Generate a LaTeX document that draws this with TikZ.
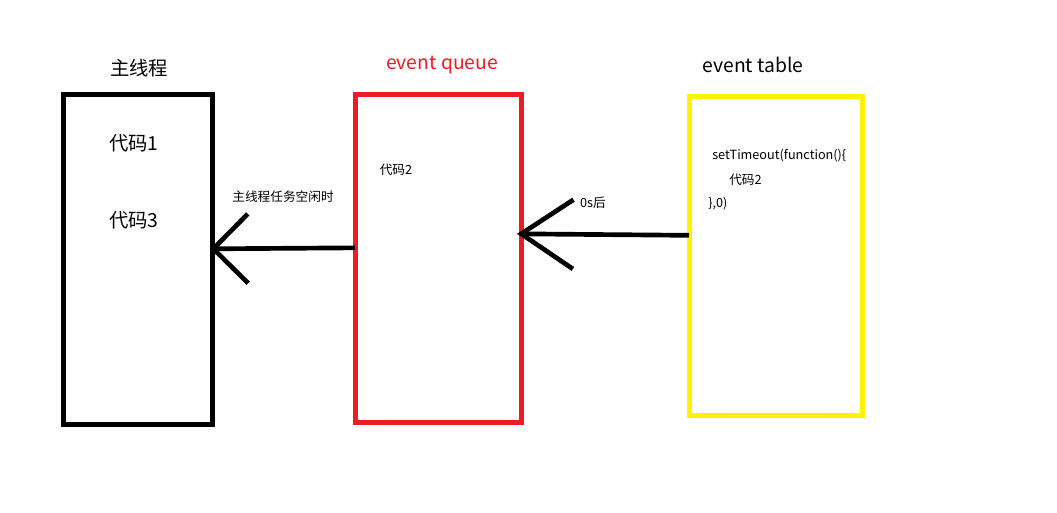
\documentclass[tikz,border=0pt]{standalone}
\usepackage{fontspec}
\setmainfont{Noto Sans CJK SC}
\usepackage{tikz}
\usetikzlibrary{arrows.meta}
\definecolor{paintred}{RGB}{237,28,36}
\definecolor{paintyellow}{RGB}{255,242,0}
\tikzset{
  box/.style={draw=#1, line width=3.75pt, outer sep=0pt, inner sep=0pt},
  title/.style={font=\fontsize{14.5}{16}\selectfont},
  small/.style={font=\fontsize{9.5}{11}\selectfont, inner sep=0pt},
  flow/.style={line width=3.5pt, -{Straight Barb[length=#1, width=52pt, line width=3.5pt]}}
}
\begin{document}
\begin{tikzpicture}[x=0.75pt, y=-0.75pt]
\useasboundingbox (0,0) rectangle (1057,513);
% the three boxes
\node[box=black, minimum width=111.75pt, minimum height=246.75pt] (main) at (137.5,259.5) {};
\node[box=paintred, minimum width=124.5pt, minimum height=245.25pt] (queue) at (438,258.5) {};
\node[box=paintyellow, minimum width=129.75pt, minimum height=238.5pt] (table) at (775.5,256) {};
% titles
\node[title] (mainlbl) at (139,68) {主线程};
\node[title, text=paintred] (queuelbl) at (442,65) {event queue};
\node[title] (tablelbl) at (753,65) {event table};
% contents
\node[title] (code1) at (134,143) {代码1};
\node[title] (code3) at (134,220) {代码3};
\node[small] (code2) at (396,170) {代码2};
\node[small, anchor=west] (set1) at (712,156) {setTimeout(function()\{};
\node[small, anchor=west] (set2) at (729,180) {代码2};
\node[small, anchor=west] (set3) at (708,204) {\},0)};
% arrows
\draw[flow=26pt] ([yshift=8pt]queue.west) -- ([xshift=-1.5pt, yshift=8pt]main.east);
\node[small] (idle) at (283,197) {主线程任务空闲时};
\draw[flow=39pt] ([yshift=15.5pt]table.west) -- ([xshift=-3pt, yshift=18.5pt]queue.east);
\node[small] (after) at (593,203) {0s后};
\end{tikzpicture}
\end{document}
